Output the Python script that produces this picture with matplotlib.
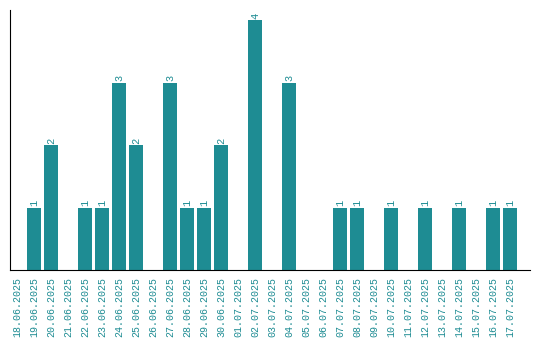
import matplotlib
matplotlib.use("Agg")
import matplotlib.pyplot as plt

dates = ["18.06.2025","19.06.2025","20.06.2025","21.06.2025","22.06.2025","23.06.2025",
         "24.06.2025","25.06.2025","26.06.2025","27.06.2025","28.06.2025","29.06.2025",
         "30.06.2025","01.07.2025","02.07.2025","03.07.2025","04.07.2025","05.07.2025",
         "06.07.2025","07.07.2025","08.07.2025","09.07.2025","10.07.2025","11.07.2025",
         "12.07.2025","13.07.2025","14.07.2025","15.07.2025","16.07.2025","17.07.2025"]
counts = [0,1,2,0,1,1,3,2,0,3,1,1,2,0,4,0,3,0,0,1,1,0,1,0,1,0,1,0,1,1]

color = "#1e8c93"
font = "Liberation Mono"
fig = plt.figure(figsize=(5.4, 3.4), dpi=100)
ax = fig.add_axes([10/540, 70/340, 520/540, 260/340])
x = list(range(len(dates)))
ax.bar(x, counts, width=0.82, color=color)
for xi, c in zip(x, counts):
    if c > 0:
        ax.text(xi, c + 0.02, str(c), rotation=90, ha="center", va="bottom",
                color=color, fontsize=7.5, family=font)
ax.set_xlim(-0.41, 30.18)
ax.set_ylim(0, 4.16)
ax.set_xticks(x)
ax.set_xticklabels(dates, rotation=90, fontsize=7.2, family=font, color=color)
ax.tick_params(axis="x", length=0, pad=5)
ax.set_yticks([])
ax.spines["top"].set_visible(False)
ax.spines["right"].set_visible(False)
fig.savefig("out.png", dpi=100)
